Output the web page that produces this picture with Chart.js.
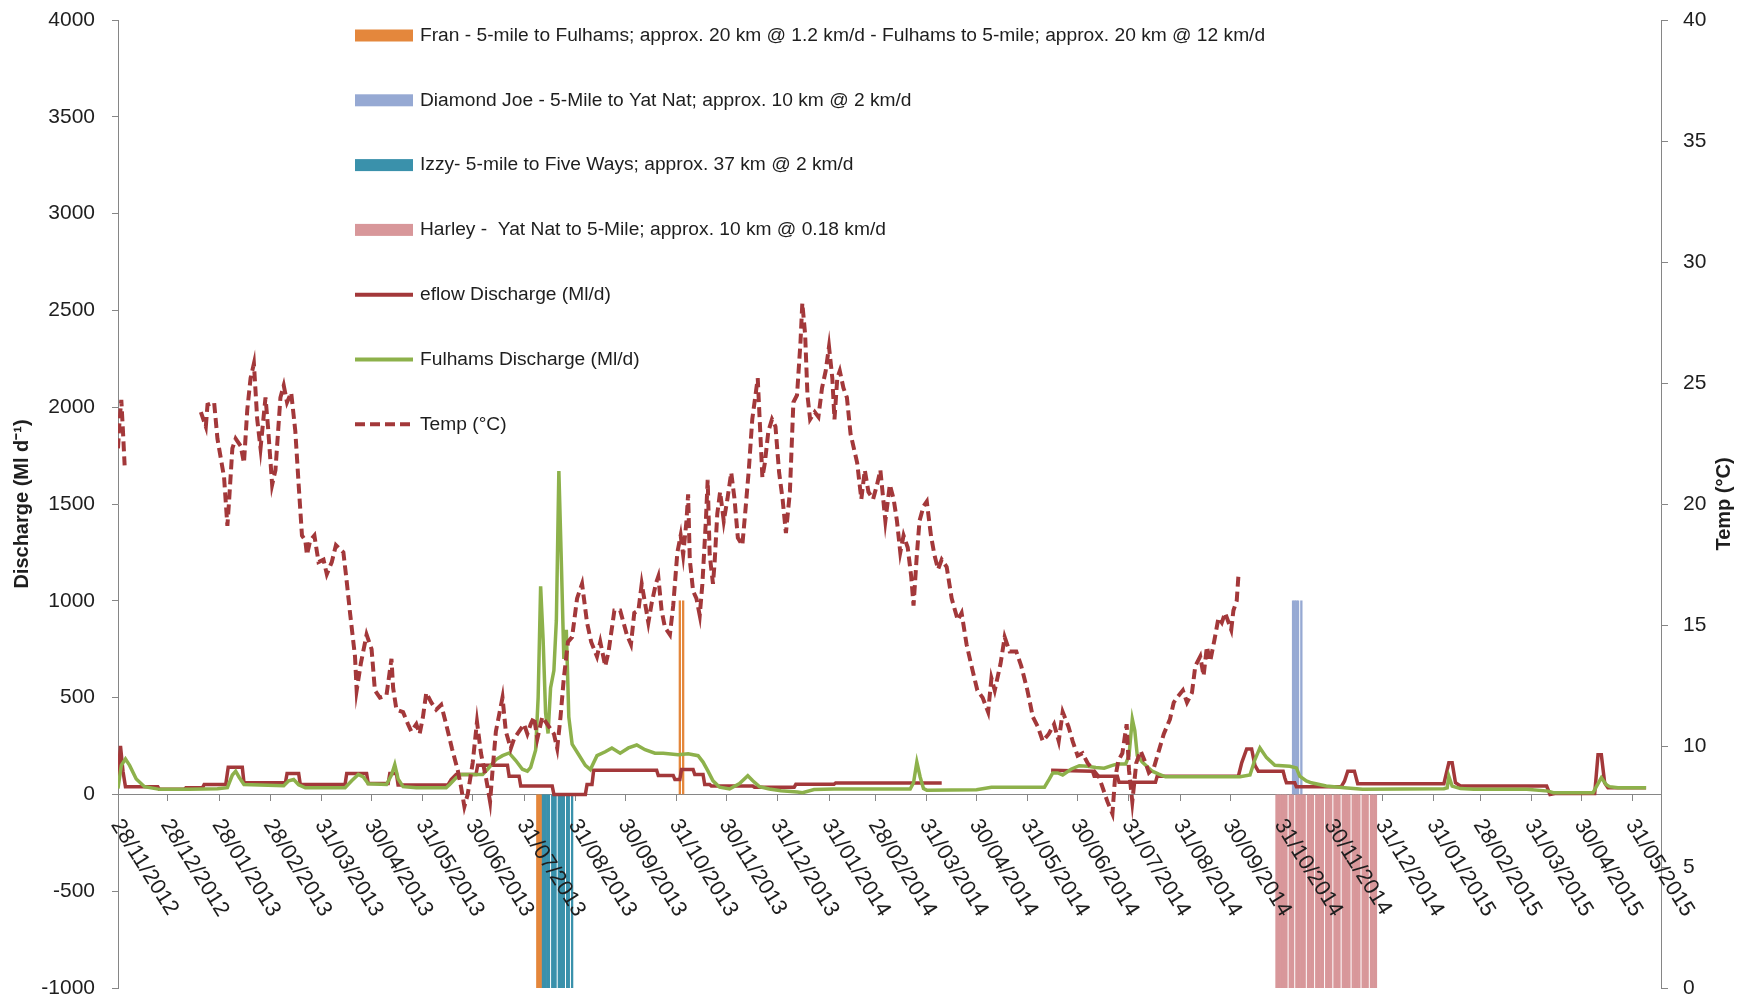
<!DOCTYPE html>
<html>
<head>
<meta charset="utf-8">
<script src="https://cdn.jsdelivr.net/npm/chart.js@4.4.1/dist/chart.umd.min.js"></script>
<style>
  html, body { margin: 0; padding: 0; background: #ffffff; }
  #wrap { width: 1752px; height: 998px; }
  canvas { display: block; }
</style>
</head>
<body>
<div id="wrap"><canvas id="c" width="1752" height="998"></canvas></div>
<script>
// Days are counted from 28/11/2012 (day 0).
const tickDays = [0, 30, 61, 92, 123, 153, 184, 214, 245, 276, 306, 337, 367, 398, 429, 457,
  488, 518, 549, 579, 610, 641, 671, 702, 732, 763, 794, 822, 853, 883, 914];
const tickLabels = ['28/11/2012', '28/12/2012', '28/01/2013', '28/02/2013', '31/03/2013', '30/04/2013',
  '31/05/2013', '30/06/2013', '31/07/2013', '31/08/2013', '30/09/2013', '31/10/2013', '30/11/2013',
  '31/12/2013', '31/01/2014', '28/02/2014', '31/03/2014', '30/04/2014', '31/05/2014', '30/06/2014',
  '31/07/2014', '31/08/2014', '30/09/2014', '31/10/2014', '30/11/2014', '31/12/2014', '31/01/2015',
  '28/02/2015', '31/03/2015', '30/04/2015', '31/05/2015'];

// Water temperature, [day, °C]; null marks the logger gap.
const tempReadings = [
  [0, 22.3], [1, 23.5], [2, 24.3], [3, 23.0], [4, 21.6], [27, null],
  [50, 23.8], [53, 23.2], [54, 24.1], [58, 24.2], [60, 22.7], [64, 21.1], [66, 19.1], [67, 20.1],
  [69, 22.3], [71, 22.7], [74, 22.4], [76, 21.7], [78, 23.9], [80, 25.2], [82, 25.8], [84, 23.5],
  [86, 22.3], [89, 24.4], [90.5, 23.2], [93, 20.8], [95, 21.4], [98, 24.4], [100, 24.9], [102, 24.2],
  [104.5, 24.6], [107, 23.0], [109, 20.8], [111, 18.7], [113, 18.5], [114, 17.9], [116, 18.5],
  [118.5, 18.7], [121, 17.6], [124, 17.7], [126, 17.1], [129, 17.6], [131.5, 18.3], [136, 18.0],
  [138, 16.8], [140, 15.5], [143, 13.7], [144, 12.3], [146.5, 13.4], [150, 14.6], [153, 14.0],
  [155, 12.3], [158, 12.0], [162, 12.1], [165, 13.6], [166, 12.4], [168, 11.5], [172, 11.4],
  [175, 10.9], [177, 10.6], [180, 10.9], [182, 10.5], [184, 11.2], [186, 12.2], [189, 11.8],
  [192, 11.5], [195, 11.7], [198, 10.9], [201.5, 9.9], [205, 9.0], [207, 8.3], [209, 7.5], [211, 8.0],
  [214, 9.3], [216.6, 11.0], [219, 9.7], [222, 8.7], [224.5, 7.7], [226, 9.0], [228, 10.6], [232, 12.0],
  [234, 10.6], [237, 9.9], [239, 10.3], [242, 10.6], [245, 10.9], [247, 10.5], [249, 10.9], [251, 11.2],
  [253, 10.3], [256, 11.2], [260, 10.8], [263, 10.5], [265, 9.9], [267, 11.2], [269, 12.8],
  [271.5, 14.3], [274, 14.5], [277, 16.1], [280, 16.7], [283, 15.1], [285.5, 14.3], [289, 13.7],
  [291, 14.3], [294, 13.3], [296, 13.9], [299.5, 15.6], [303, 15.6], [305, 15.1], [307, 14.6],
  [309.5, 14.2], [311.5, 15.5], [314, 15.6], [316, 16.7], [318, 15.9], [320, 15.1], [322, 15.9],
  [324.5, 16.7], [326, 17.0], [328, 15.6], [330, 14.9], [333, 14.6], [335, 15.8], [337.5, 18.0],
  [339.5, 18.7], [341, 17.9], [343, 19.3], [344, 20.4], [345, 17.7], [347, 16.4], [349, 16.1],
  [351, 15.4], [352.6, 16.7], [354.7, 19.3], [355.8, 21.0], [357, 17.9], [359, 16.7], [360, 17.6],
  [361.6, 19.6], [363.3, 20.5], [365.5, 19.3], [367.7, 20.2], [370, 21.3], [372, 20.2], [374, 18.6],
  [376.7, 18.3], [378.4, 19.6], [380.6, 21.4], [382.7, 23.5], [386, 25.2], [387.5, 23.0], [388.8, 21.1],
  [390.3, 21.7], [392.4, 23.0], [394.6, 23.5], [396.7, 23.2], [398.9, 21.3], [401, 20.2], [403, 18.8],
  [405.4, 20.5], [407.5, 24.2], [409.7, 24.5], [411.8, 26.7], [412.9, 28.3], [414.6, 27.0], [416, 24.5],
  [417.6, 23.5], [420.4, 23.8], [422.6, 23.6], [424.8, 24.8], [427, 25.5], [429, 26.5], [431, 25.2],
  [432.3, 23.5], [434, 25.2], [435.5, 25.5], [437.7, 24.8], [439.8, 24.4], [442, 22.9], [444, 22.3],
  [446, 21.7], [448.5, 20.2], [450.6, 21.4], [452.8, 20.5], [455.6, 20.2], [458, 20.8], [460, 21.4],
  [463, 19.3], [465.7, 20.8], [468, 20.2], [470, 19.3], [472, 18.0], [474, 18.7], [476.5, 18.2],
  [478.6, 17.0], [480, 15.8], [482, 17.9], [483.6, 19.3], [486, 19.9], [488, 20.1], [490.5, 18.7],
  [492.6, 17.9], [494.8, 17.3], [497, 17.7], [500, 17.4], [503, 16.1], [506.7, 15.2], [509, 15.5],
  [512, 14.2], [515, 13.3], [518.5, 12.3], [521.7, 12.0], [525, 11.4], [527, 12.8], [529, 12.3],
  [532.5, 13.4], [535, 14.5], [538, 13.9], [542, 13.9], [545, 13.3], [548.7, 12.3], [552, 11.2],
  [555, 10.8], [558, 10.2], [561.6, 10.5], [564.8, 10.9], [567.6, 10.2], [570, 11.4], [573.5, 10.8],
  [576, 10.2], [579, 9.6], [582, 9.7], [585, 9.3], [588.5, 9.0], [592, 8.7], [594, 8.3], [597, 7.7],
  [600, 7.2], [601.5, 8.6], [603.6, 9.4], [606, 9.7], [608.6, 10.9], [610, 9.0], [612, 7.7],
  [614.4, 9.3], [617, 9.8], [620, 9.3], [622, 8.9], [625, 9.1], [628, 9.8], [631, 10.5], [634.7, 11.1],
  [637, 11.8], [639, 12.0], [642.5, 12.3], [645, 11.8], [648, 12.2], [650, 13.3], [653, 13.7],
  [655, 12.9], [657, 14.1], [659, 13.5], [661.6, 14.4], [664, 15.3], [666, 15.1], [668, 15.5],
  [671.7, 14.8], [673, 15.6], [675, 16.0], [676, 17.0]
];

// Environmental-flow release, [day, Ml/d]; null marks missing record.
const eflowReadings = [
  [0, 90], [1.5, 250], [3, 120], [4.5, 40], [24, 40], [25, 26], [40, 26], [41, 34], [51, 34], [52, 51],
  [65, 51], [66.5, 140], [75, 140], [76, 60], [101, 60], [102, 108], [109, 108], [110, 51], [137, 51],
  [138, 108], [150, 108], [151, 56], [163, 56], [164, 108], [168, 108], [169, 48], [199, 48], [201, 77],
  [204, 103], [216, 103], [217, 150], [235, 150], [236, 94], [242, 94], [243, 43], [262, 43], [263, 0],
  [282, 0], [283, 51], [286, 51], [287, 125], [325, 125], [326, 98], [335, 98], [336, 77], [339, 77],
  [340, 128], [347, 128], [348, 103], [353, 103], [354, 51], [357, 51], [358, 43], [383, 43], [384, 37],
  [408, 37], [409, 52], [432, 52], [433, 59], [497, 59], [530, null],
  [563, 125], [588, 120], [589, 94], [603, 94], [604, 63], [626, 63], [627, 94], [676, 94], [678, 163],
  [681, 235], [684, 235], [686, 150], [688, 120], [703, 120], [704, 86], [705, 60], [710, 60], [711, 39],
  [738, 39], [740, 68], [742, 120], [746, 120], [748, 55], [800, 55], [803, 163], [805, 163], [807, 60],
  [810, 43], [862, 43], [864, 0], [867, 5], [891, 5], [893, 205], [895, 205], [897, 60], [899, 34],
  [922, 34]
];

// Discharge at Fulhams gauge, [day, Ml/d].
const fulhamsReadings = [
  [0, 30], [2, 150], [4.5, 183], [7, 150], [11, 80], [16, 40], [25, 26], [43, 26], [60, 29], [66, 35],
  [69, 100], [71, 120], [73, 90], [76, 51], [100, 45], [103, 70], [106, 77], [109, 50], [113, 34],
  [137, 34], [141, 70], [145, 103], [148, 90], [151, 55], [162, 51], [165, 100], [167, 154], [169, 80],
  [172, 40], [180, 34], [198, 34], [200, 50], [204, 86], [207, 103], [220, 103], [223, 130], [228, 180],
  [232, 200], [236, 214], [240, 175], [244, 130], [247, 120], [249, 140], [252, 230], [253.5, 500],
  [255, 1075], [256.5, 800], [258, 420], [259.5, 315], [261, 550], [263, 640], [264.5, 900],
  [266, 1670], [267.5, 1200], [269, 700], [270.5, 850], [272, 400], [274, 260], [278, 205], [282, 150],
  [285, 128], [289, 200], [294, 220], [298, 240], [303, 213], [308, 240], [313, 255], [318, 231],
  [324, 213], [329, 213], [338, 205], [344, 210], [350, 200], [353, 167], [356, 120], [359, 70],
  [363, 37], [369, 28], [375, 56], [380, 96], [383, 70], [387, 40], [393, 28], [400, 19], [410, 12],
  [413, 9], [420, 25], [432, 28], [478, 28], [480, 60], [482, 167], [484, 90], [486, 30], [488, 22],
  [518, 24], [527, 37], [559, 37], [562, 80], [564, 111], [567, 111], [570, 100], [575, 130], [580, 148],
  [585, 145], [590, 139], [595, 135], [600, 150], [603, 157], [608, 157], [610, 200], [612, 389],
  [613.5, 330], [615, 200], [618, 167], [624, 120], [628, 105], [632, 91], [650, 91], [677, 91],
  [683, 100], [686, 180], [689, 240], [693, 190], [698, 150], [707, 145], [711, 137], [713, 94],
  [717, 70], [720, 60], [729, 43], [740, 34], [751, 26], [800, 29], [802, 34], [803, 94], [805, 43],
  [810, 30], [818, 26], [850, 26], [863, 17], [866, 9], [890, 9], [892, 40], [895, 86], [898, 50],
  [900, 40], [905, 34], [922, 34]
];

// Days each fish was tracked; bars sit above (+1000) or below (-1000) the axis.
const franUpDays = [339, 341];
const franDownDays = [253, 254, 255];
const diamondJoeDays = [709, 710, 711, 712, 714];
const izzyDays = [256, 257, 258, 259, 260, 262, 263, 264, 266, 267, 268, 269, 271, 272, 274];
const harleyDays = [699, 700, 701, 702, 703, 704, 705, 707, 708, 709, 711, 712, 713, 714, 715, 716,
  718, 719, 720, 721, 723, 724, 725, 726, 727, 729, 730, 731, 732, 734, 735, 736, 737, 739, 740, 741,
  742, 743, 745, 746, 747, 748, 749, 751, 752, 753, 754, 756, 757, 758, 759];
const trackUp = 1000;
const trackDown = -1000;

const RED = '#A3383A';
const GREEN = '#8DB14B';
const ORANGE = '#E4873C';
const BLUE = '#96A9D3';
const TEAL = '#3A91AB';
const PINK = '#D8979A';
const AXIS_GREY = '#868686';
const TEXT = '#1e1e1e';
const FONT = "'Liberation Sans', Arial, sans-serif";

const toXY = rows => rows.map(([x, y]) => ({ x, y }));
const barStyle = { type: 'bar', yAxisID: 'y', grouped: false, barPercentage: 1, categoryPercentage: 1, borderWidth: 0 };

const datasets = [
  { type: 'line', key: 'temp', label: 'Temp (°C)', yAxisID: 'y2', data: toXY(tempReadings),
    borderColor: RED, borderWidth: 4, borderDash: [10, 5], pointRadius: 0, spanGaps: false, order: 1 },
  { type: 'line', key: 'fulhams', label: 'Fulhams Discharge (Ml/d)', yAxisID: 'y', data: toXY(fulhamsReadings),
    borderColor: GREEN, borderWidth: 3.5, pointRadius: 0, order: 2 },
  { type: 'line', key: 'eflow', label: 'eflow Discharge (Ml/d)', yAxisID: 'y', data: toXY(eflowReadings),
    borderColor: RED, borderWidth: 3.5, pointRadius: 0, spanGaps: false, order: 3 },
  { ...barStyle, key: 'fran', label: 'Fran - 5-mile to Fulhams; approx. 20 km @ 1.2 km/d - Fulhams to 5-mile; approx. 20 km @ 12 km/d',
    data: franDownDays.map(d => ({ x: d, y: trackDown })).concat(franUpDays.map(d => ({ x: d, y: trackUp }))),
    backgroundColor: ORANGE, order: 4 },
  { ...barStyle, key: 'diamond', label: 'Diamond Joe - 5-Mile to Yat Nat; approx. 10 km @ 2 km/d',
    data: diamondJoeDays.map(d => ({ x: d, y: trackUp })), backgroundColor: BLUE, order: 5 },
  { ...barStyle, key: 'izzy', label: 'Izzy- 5-mile to Five Ways; approx. 37 km @ 2 km/d',
    data: izzyDays.map(d => ({ x: d, y: trackDown })), backgroundColor: TEAL, order: 6 },
  { ...barStyle, key: 'harley', label: 'Harley -  Yat Nat to 5-Mile; approx. 10 km @ 0.18 km/d',
    data: harleyDays.map(d => ({ x: d, y: trackDown })), backgroundColor: PINK, order: 7 }
];

const legendOrder = ['fran', 'diamond', 'izzy', 'harley', 'eflow', 'fulhams', 'temp'];

// Vertical legend drawn inside the plot area.
const legendPlugin = {
  id: 'stackedLegend',
  afterDatasetsDraw(chart) {
    const { ctx } = chart;
    const x0 = 355, w = 58, textX = 420, y0 = 35.5, step = 64.8;
    ctx.save();
    ctx.font = '19.2px ' + FONT;
    ctx.textBaseline = 'middle';
    ctx.textAlign = 'left';
    legendOrder.forEach((key, i) => {
      const ds = chart.data.datasets.find(d => d.key === key);
      const y = y0 + i * step;
      if (ds.type === 'bar') {
        ctx.fillStyle = ds.backgroundColor;
        ctx.fillRect(x0, y - 6, w, 12);
      } else {
        ctx.strokeStyle = ds.borderColor;
        ctx.lineWidth = 4;
        ctx.setLineDash(ds.borderDash || []);
        ctx.beginPath();
        ctx.moveTo(x0, y);
        ctx.lineTo(x0 + w, y);
        ctx.stroke();
        ctx.setLineDash([]);
      }
      ctx.fillStyle = TEXT;
      ctx.fillText(ds.label, textX, y);
    });
    ctx.restore();
  }
};

// Slanted date labels hanging below the zero line, plus the right-hand axis title.
const dateLabelPlugin = {
  id: 'dateLabels',
  afterDatasetsDraw(chart) {
    const { ctx, scales } = chart;
    const yZero = scales.y.getPixelForValue(0);
    const angle = 58 * Math.PI / 180;
    ctx.save();
    ctx.font = '22px ' + FONT;
    ctx.fillStyle = TEXT;
    ctx.textAlign = 'left';
    ctx.textBaseline = 'top';
    tickDays.forEach((d, i) => {
      const px = scales.x.getPixelForValue(d);
      ctx.save();
      ctx.translate(px + 7, yZero + 21);
      ctx.rotate(angle);
      ctx.fillText(tickLabels[i], 0, 0);
      ctx.restore();
    });
    ctx.font = 'bold 20px ' + FONT;
    ctx.textAlign = 'center';
    ctx.textBaseline = 'middle';
    ctx.translate(1724, (chart.chartArea.top + chart.chartArea.bottom) / 2);
    ctx.rotate(-Math.PI / 2);
    ctx.fillText('Temp (°C)', 0, 0);
    ctx.restore();
  }
};

// Tick marks: only the 6 px next to the axis line is inked, the rest of the
// tick length just spaces the labels away from the axis.
const leftGrid = { drawOnChartArea: false, drawTicks: true, tickLength: 23, color: AXIS_GREY,
  tickBorderDash: [6, 17], tickBorderDashOffset: 6 };
const rightGrid = { drawOnChartArea: false, drawTicks: true, tickLength: 22, color: AXIS_GREY,
  tickBorderDash: [6, 100], tickBorderDashOffset: 0 };
const tickFont = { family: FONT, size: 21, lineHeight: 0.9 };

new Chart(document.getElementById('c'), {
  type: 'bar',
  data: { datasets },
  plugins: [legendPlugin, dateLabelPlugin],
  options: {
    responsive: false,
    animation: false,
    events: [],
    devicePixelRatio: 1,
    layout: { padding: { top: 20, bottom: 10, left: 0, right: 0 } },
    plugins: { legend: { display: false }, tooltip: { enabled: false }, title: { display: false } },
    scales: {
      x: {
        type: 'linear', min: 0, max: 931, offset: false,
        position: { y: 0 },
        afterBuildTicks: s => { s.ticks = tickDays.map(v => ({ value: v })); },
        grid: { drawOnChartArea: false, drawTicks: true, tickLength: 6, color: AXIS_GREY, offset: false },
        border: { display: true, color: AXIS_GREY, width: 1 },
        ticks: { display: false }
      },
      y: {
        position: 'left', min: -1000, max: 4000,
        afterFit: s => { s.width = 118; },
        ticks: { stepSize: 500, padding: 0, color: TEXT, font: tickFont, callback: v => String(v) },
        grid: leftGrid,
        border: { display: true, color: AXIS_GREY, width: 1 },
        title: { display: true, text: 'Discharge (Ml d⁻¹)', color: TEXT,
          font: { family: FONT, size: 20, weight: 'bold' }, padding: { top: 10, bottom: 0 } }
      },
      y2: {
        position: 'right', min: 0, max: 40,
        afterFit: s => { s.width = 91; },
        ticks: { stepSize: 5, padding: 0, color: TEXT, font: tickFont },
        grid: rightGrid,
        border: { display: true, color: AXIS_GREY, width: 1 }
      }
    }
  }
});
</script>
</body>
</html>
